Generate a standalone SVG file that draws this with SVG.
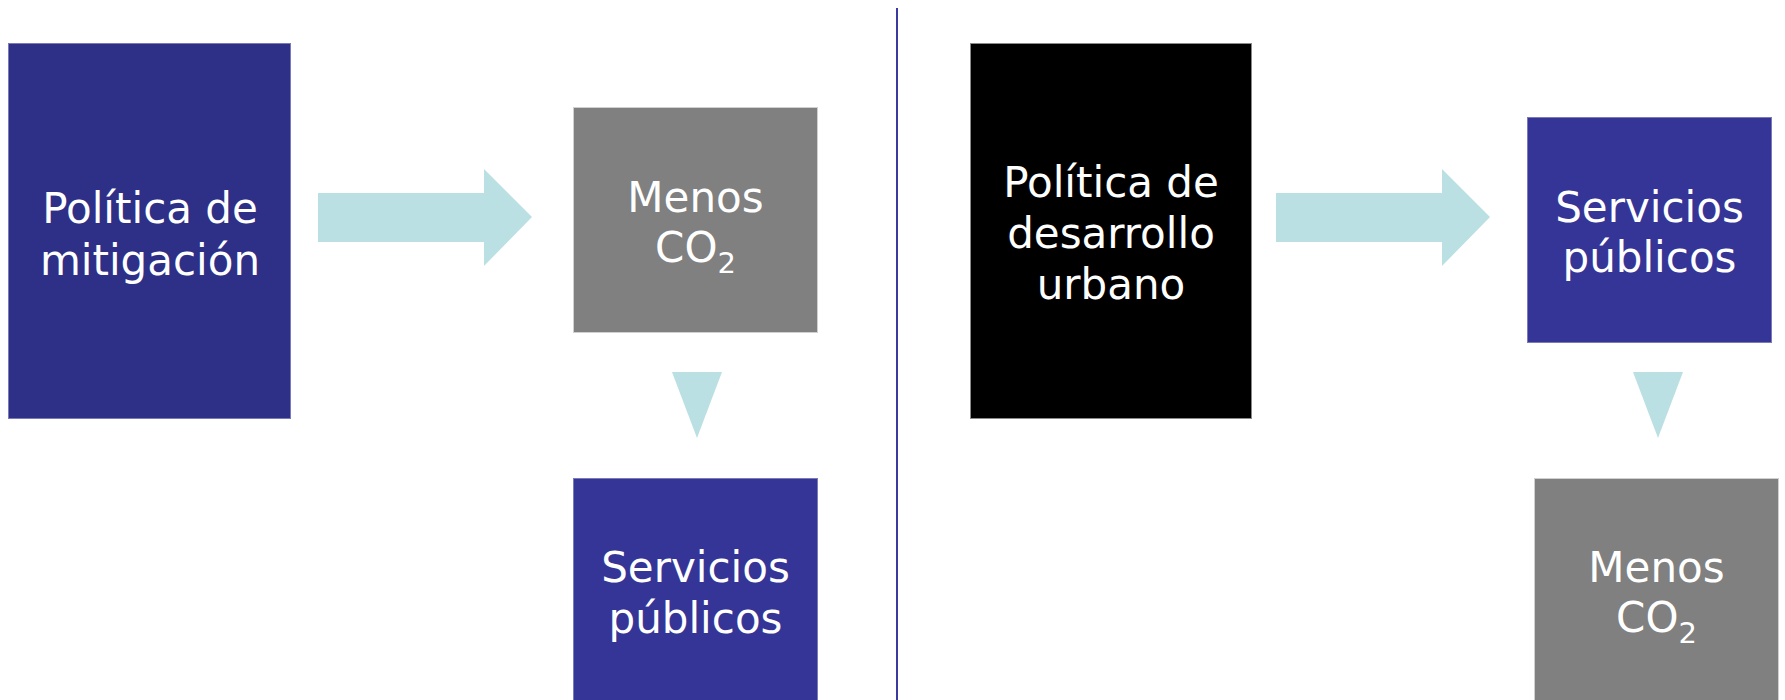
<svg xmlns="http://www.w3.org/2000/svg" width="1785" height="700" viewBox="0 0 1785 700">
<style>
.lbl{font-family:"DejaVu Sans",Verdana,sans-serif;font-size:42px;fill:#ffffff;text-anchor:middle}
.sub{font-size:29px}
.navy{fill:#2e2f87;stroke:#7a7ab8;stroke-width:1}
.blue{fill:#353597;stroke:#7a7ab8;stroke-width:1}
.gray{fill:#808080;stroke:#d0d0d0;stroke-width:1}
.black{fill:#000000;stroke:#8a8a8a;stroke-width:1}
.arr{fill:#bae0e3}
</style>
<rect width="1785" height="700" fill="#ffffff"/>
<g id="divider"><line x1="897" y1="8" x2="897" y2="700" stroke="#3a3aa0" stroke-width="2"/></g>
<g id="connectors">
<polygon class="arr" points="318,193 484,193 484,169 532,217 484,266 484,242 318,242"/>
<polygon class="arr" points="672,372 722,372 697,438"/>
<polygon class="arr" points="1276,193 1442,193 1442,169 1490,217 1442,266 1442,242 1276,242"/>
<polygon class="arr" points="1633,372 1683,372 1658,438"/>
</g>
<g id="node-mitigacion">
<rect class="navy" x="8.5" y="43.5" width="282" height="375"/>
<text class="lbl" x="150" y="223">Política de</text>
<text class="lbl" x="150" y="275">mitigación</text>
</g>
<g id="node-menos-co2-left">
<rect class="gray" x="573.5" y="107.5" width="244" height="225"/>
<text class="lbl" x="695.5" y="212">Menos</text>
<text class="lbl" x="695.5" y="262">CO<tspan class="sub" dy="11">2</tspan></text>
</g>
<g id="node-servicios-left">
<rect class="blue" x="573.5" y="478.5" width="244" height="230"/>
<text class="lbl" x="695.5" y="582">Servicios</text>
<text class="lbl" x="695.5" y="633">públicos</text>
</g>
<g id="node-desarrollo">
<rect class="black" x="970.5" y="43.5" width="281" height="375"/>
<text class="lbl" x="1111" y="197">Política de</text>
<text class="lbl" x="1111" y="248">desarrollo</text>
<text class="lbl" x="1111" y="299">urbano</text>
</g>
<g id="node-servicios-right">
<rect class="blue" x="1527.5" y="117.5" width="244" height="225"/>
<text class="lbl" x="1649.5" y="222">Servicios</text>
<text class="lbl" x="1649.5" y="272">públicos</text>
</g>
<g id="node-menos-co2-right">
<rect class="gray" x="1534.5" y="478.5" width="244" height="230"/>
<text class="lbl" x="1656.5" y="582">Menos</text>
<text class="lbl" x="1656.5" y="632">CO<tspan class="sub" dy="11">2</tspan></text>
</g>
</svg>
